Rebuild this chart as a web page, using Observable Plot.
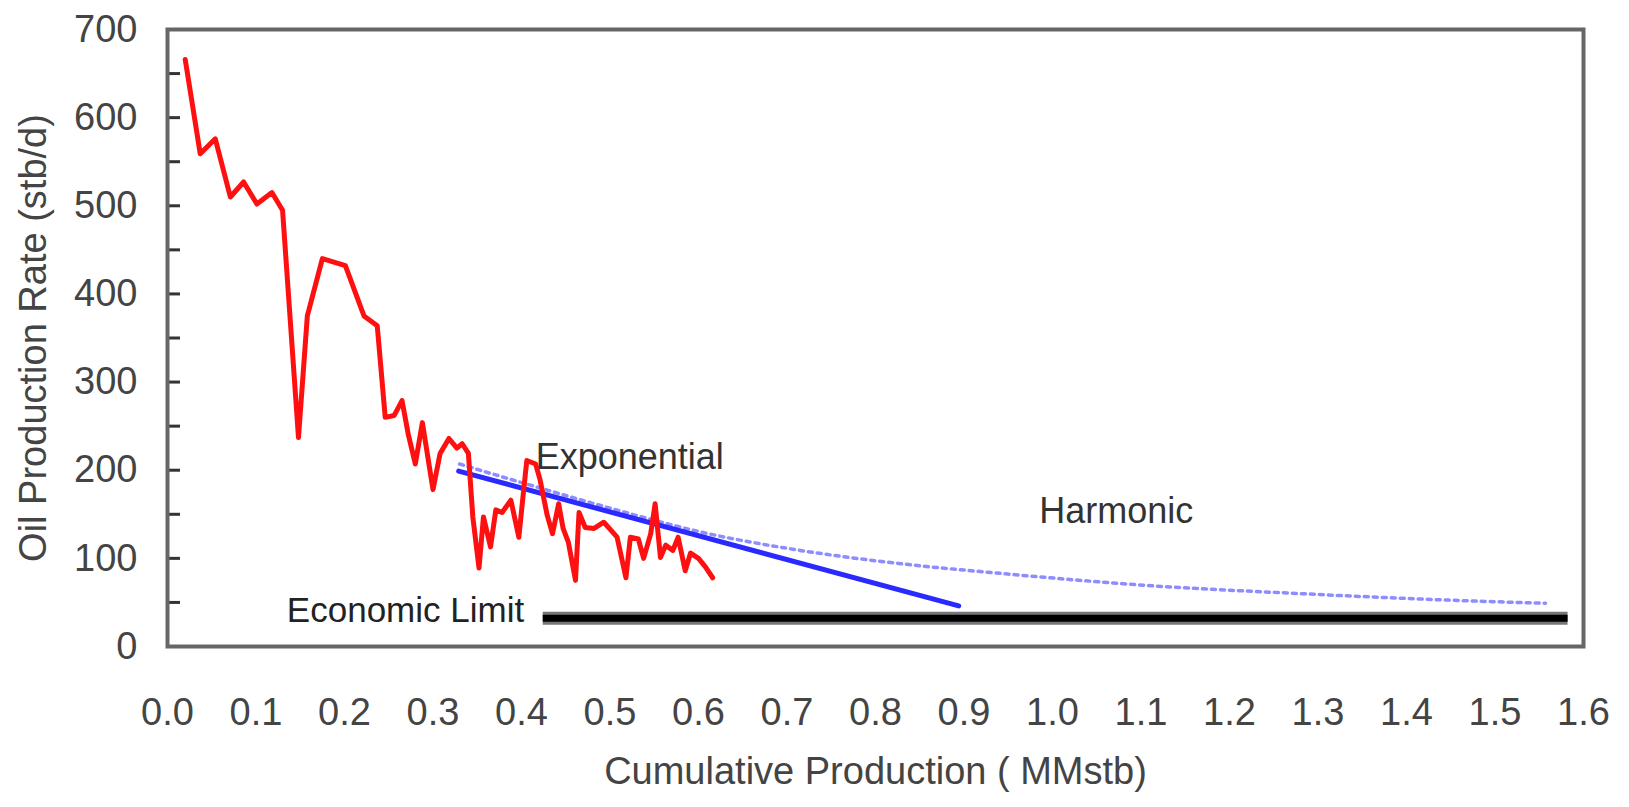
<!DOCTYPE html>
<html>
<head>
<meta charset="utf-8">
<script src="https://cdn.jsdelivr.net/npm/d3@7"></script>
<script src="https://cdn.jsdelivr.net/npm/@observablehq/plot@0.6"></script>
<style>
  html, body { margin: 0; padding: 0; background: #fff; }
  #chart { width: 1629px; height: 807px; }
</style>
</head>
<body>
<div id="chart"></div>
<script>
// ---- Data ----
// Observed oil production rate (stb/d) vs cumulative production (MMstb)
const cumProd = [0.020, 0.037, 0.054, 0.071, 0.086, 0.101, 0.118, 0.130, 0.148, 0.158, 0.175, 0.201,
  0.222, 0.237, 0.246, 0.256, 0.265, 0.272, 0.280, 0.288, 0.300, 0.308, 0.318, 0.327, 0.333, 0.340,
  0.345, 0.352, 0.357, 0.365, 0.371, 0.378, 0.388, 0.397, 0.402, 0.406, 0.416, 0.421, 0.429, 0.435,
  0.442, 0.447, 0.453, 0.461, 0.465, 0.472, 0.482, 0.493, 0.501, 0.508, 0.518, 0.523, 0.532, 0.538,
  0.546, 0.551, 0.557, 0.563, 0.571, 0.577, 0.585, 0.591, 0.600, 0.608, 0.616];
const oilRate = [666, 559, 576, 510, 527, 502, 515, 495, 237, 375, 440, 432,
  375, 364, 260, 262, 279, 241, 207, 254, 178, 219, 236, 225, 230, 219,
  147, 89, 147, 113, 155, 152, 166, 124, 173, 211, 207, 189, 149, 128,
  162, 134, 118, 75, 152, 135, 134, 141, 132, 124, 78, 124, 122, 100,
  128, 162, 101, 115, 109, 124, 86, 106, 100, 90, 78];

// Exponential decline (straight line on rate vs cumulative)
const expCum = [0.329, 0.894];
const expRate = [199, 46];

// Harmonic decline (dotted)
const harmCum = [0.330, 0.400, 0.500, 0.602, 0.715, 0.828, 0.941, 1.111, 1.280, 1.438, 1.557];
const harmRate = [207, 186, 157, 130, 109, 94, 83, 69, 60, 53, 49];

// Economic limit
const econCum = [0.424, 1.582];
const econRate = [32, 32];

// Annotations
const annoText = ["Exponential", "Harmonic", "Economic Limit"];
const annoX = [0.416, 0.985, 0.403];
const annoY = [214, 153, 41];

// Axis ticks
const xTicks = d3.range(0, 17).map(i => i / 10);
const yTicks = [0, 100, 200, 300, 400, 500, 600, 700];
const yMinorTicks = [0, 50, 100, 150, 200, 250, 300, 350, 400, 450, 500, 550, 600, 650, 700];

// ---- Build tables ----
const observed = cumProd.map((x, i) => ({x, y: oilRate[i]}));
const expo = expCum.map((x, i) => ({x, y: expRate[i]}));
const harm = harmCum.map((x, i) => ({x, y: harmRate[i]}));
const econ = econCum.map((x, i) => ({x, y: econRate[i]}));
const anno = annoText.map((t, i) => ({t, x: annoX[i], y: annoY[i]}));

const font = "'Liberation Sans', Arial, Helvetica, sans-serif";

const chart = Plot.plot({
  width: 1629,
  height: 807,
  marginLeft: 167,
  marginRight: 46,
  marginTop: 29,
  marginBottom: 161,
  x: {domain: [0, 1.6]},
  y: {domain: [0, 700]},
  style: {fontFamily: font, fontSize: "37px", color: "#444", background: "#fff"},
  marks: [
    Plot.axisY({ticks: yMinorTicks, tickSize: 13, dx: 13, tickFormat: () => "", stroke: "#333", strokeWidth: 3, label: null}),
    Plot.axisY({ticks: yTicks, tickSize: 0, tickPadding: 30, fontSize: 38,
      label: "Oil Production Rate (stb/d)", labelAnchor: "center", labelOffset: 148, labelArrow: "none"}),
    Plot.axisX({ticks: xTicks, tickSize: 0, tickPadding: 52, tickFormat: d3.format(".1f"), fontSize: 38,
      label: "Cumulative Production ( MMstb)", labelAnchor: "center", labelOffset: 137, labelArrow: "none"}),
    Plot.line(econ, {x: "x", y: "y", stroke: "#777", strokeWidth: 13, strokeLinecap: "butt"}),
    Plot.line(econ, {x: "x", y: "y", stroke: "#000", strokeWidth: 7, strokeLinecap: "butt"}),
    Plot.line(harm, {x: "x", y: "y", stroke: "#8d8dff", strokeWidth: 3.5, strokeDasharray: "4,5", curve: "monotone-x"}),
    Plot.line(expo, {x: "x", y: "y", stroke: "#2a2aff", strokeWidth: 5}),
    Plot.line(observed, {x: "x", y: "y", stroke: "#ff1010", strokeWidth: 5, strokeLinejoin: "round"}),
    Plot.text(anno.filter(d => d.t !== "Economic Limit"), {x: "x", y: "y", text: "t", textAnchor: "start", fontSize: 36, fill: "#333"}),
    Plot.text(anno.filter(d => d.t === "Economic Limit"), {x: "x", y: "y", text: "t", textAnchor: "end", fontSize: 35, fill: "#222"}),
    Plot.frame({stroke: "#666", strokeWidth: 4})
  ]
});

document.getElementById("chart").appendChild(chart);
</script>
</body>
</html>
